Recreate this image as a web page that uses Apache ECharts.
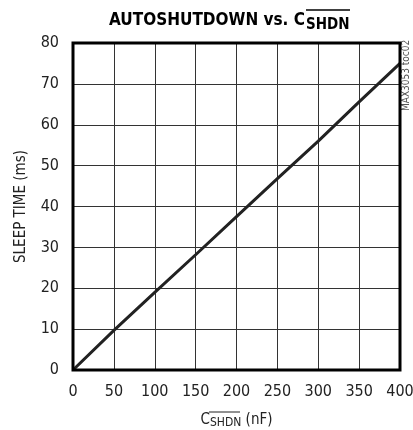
<!DOCTYPE html>
<html>
<head>
<meta charset="utf-8">
<script src="https://cdn.jsdelivr.net/npm/echarts@6/dist/echarts.min.js"></script>
<style>
  html, body { margin: 0; padding: 0; background: #fff; }
  #chart { width: 413px; height: 430px; }
</style>
</head>
<body>
<div id="chart"></div>
<script>
// capacitance (nF) vs sleep time (ms)
const capValues = [0, 50, 100, 150, 200, 250, 300, 350, 400];
const sleepValues = [0, 9.7, 19, 28.2, 37.5, 46.8, 56, 65.6, 75];

const FONT = '"Liberation Sans Narrow", "DejaVu Sans Condensed", sans-serif';
const INK = '#222';

const chart = echarts.init(document.getElementById('chart'));

const option = {
  animation: false,
  backgroundColor: '#fff',
  title: {
    text: 'AUTOSHUTDOWN vs. C{sub|SHDN}',
    left: 104,
    top: 4,
    textStyle: {
      fontFamily: FONT,
      fontWeight: 'bold',
      fontSize: 17,
      color: '#000',
      rich: {
        sub: { fontFamily: FONT, fontWeight: 'bold', fontSize: 15, color: '#000', padding: [9, 0, 0, 1] }
      }
    }
  },
  grid: { left: 73, right: 13, top: 43, bottom: 60, outerBoundsMode: 'none' },
  xAxis: {
    type: 'value',
    min: 0, max: 400, interval: 50,
    name: 'C{sub|SHDN} (nF)',
    nameLocation: 'middle',
    nameGap: 41,
    nameTextStyle: {
      fontFamily: FONT, fontSize: 15, color: INK,
      rich: { sub: { fontFamily: FONT, fontSize: 12, color: INK, padding: [6, 0, 0, 0] } }
    },
    axisLine: { show: false },
    axisTick: { show: false },
    axisLabel: { fontFamily: FONT, fontSize: 16, color: INK, margin: 14 },
    splitLine: { show: true, lineStyle: { color: '#333', width: 1 } }
  },
  yAxis: {
    type: 'value',
    min: 0, max: 80, interval: 10,
    name: 'SLEEP TIME (ms)',
    nameLocation: 'middle',
    nameGap: 44,
    nameTextStyle: { fontFamily: FONT, fontSize: 15, color: INK },
    axisLine: { show: false },
    axisTick: { show: false },
    axisLabel: { fontFamily: FONT, fontSize: 16, color: INK, margin: 14 },
    splitLine: { show: true, lineStyle: { color: '#333', width: 1 } }
  },
  series: [{
    type: 'line',
    data: capValues.map((c, i) => [c, sleepValues[i]]),
    showSymbol: false,
    smooth: false,
    lineStyle: { color: INK, width: 3 },
    z: 3
  }],
  graphic: [
    // plot frame
    { type: 'rect', shape: { x: 73, y: 43, width: 327, height: 327 },
      style: { fill: null, stroke: '#000', lineWidth: 3 }, z: 10, silent: true },
    // overline on title subscript
    { type: 'line', shape: { x1: 306, y1: 10, x2: 350, y2: 10 },
      style: { stroke: '#000', lineWidth: 1.5 }, z: 10 },
    // overline on x-axis name subscript
    { type: 'line', shape: { x1: 209, y1: 412, x2: 240, y2: 412 },
      style: { stroke: INK, lineWidth: 1 }, z: 10 },
    { type: 'text', x: 401, y: 111, rotation: Math.PI / 2,
      style: { text: 'MAX3053 toc02', fontFamily: FONT, fontSize: 10, fill: '#555' } }
  ]
};

chart.setOption(option);
</script>
</body>
</html>
